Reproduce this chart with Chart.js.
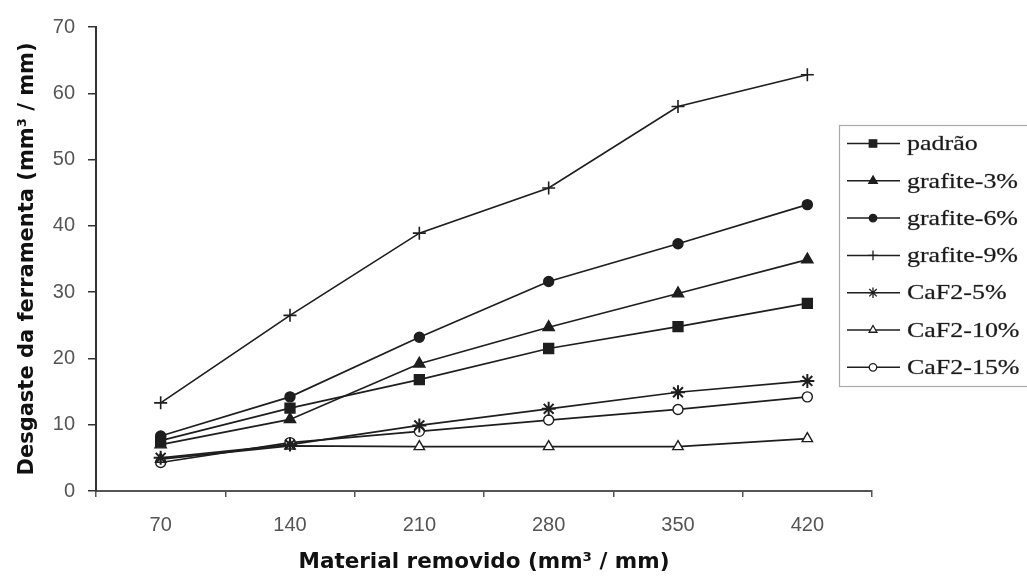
<!DOCTYPE html>
<html>
<head>
<meta charset="utf-8">
<script src="https://cdn.jsdelivr.net/npm/chart.js@4/dist/chart.umd.min.js"></script>
<style>
  html, body { margin: 0; padding: 0; background: #fff; }
  canvas { display: block; }
</style>
</head>
<body>
<canvas id="chart" width="1027" height="577"></canvas>
<script>
// material removido (mm3/mm)
const categories = ['70', '140', '210', '280', '350', '420'];
const seriesNames = ['padrão', 'grafite-3%', 'grafite-6%', 'grafite-9%', 'CaF2-5%', 'CaF2-10%', 'CaF2-15%'];

// desgaste da ferramenta (mm3/mm)
const padrao   = [7.6, 12.5, 16.8, 21.5, 24.8, 28.3];
const grafite3 = [7.0, 10.8, 19.2, 24.7, 29.8, 34.9];
const grafite6 = [8.3, 14.2, 23.2, 31.6, 37.3, 43.2];
const grafite9 = [13.3, 26.5, 38.9, 45.7, 58.0, 62.8];
const caf5     = [5.0, 7.0, 9.9, 12.4, 14.9, 16.6];
const caf10    = [4.8, 6.8, 6.7, 6.7, 6.7, 7.9];
const caf15    = [4.3, 7.3, 9.0, 10.7, 12.3, 14.2];

const yTicks = [0, 10, 20, 30, 40, 50, 60, 70];

const ink = '#1e1e1e';
const styles = [
  { pointStyle: 'rect', pointRadius: 7, fill: ink, bw: 1.4 },
  { pointStyle: 'triangle', pointRadius: 6.5, fill: ink, bw: 1.4 },
  { pointStyle: 'circle', pointRadius: 5, fill: ink, bw: 1.4 },
  { pointStyle: 'cross', pointRadius: 6.5, fill: ink, bw: 1.6 },
  { pointStyle: 'star', pointRadius: 7, fill: ink, bw: 2 },
  { pointStyle: 'triangle', pointRadius: 6, fill: '#fff', bw: 1.4 },
  { pointStyle: 'circle', pointRadius: 5, fill: '#fff', bw: 1.4 },
];
const values = [padrao, grafite3, grafite6, grafite9, caf5, caf10, caf15];

const datasets = values.map((v, i) => ({
  label: seriesNames[i],
  data: v,
  borderColor: ink,
  borderWidth: 1.7,
  pointStyle: styles[i].pointStyle,
  pointRadius: styles[i].pointRadius,
  pointBackgroundColor: styles[i].fill,
  pointBorderColor: ink,
  pointBorderWidth: styles[i].bw,
  tension: 0,
  fill: false,
}));

// legend drawn in the old spreadsheet style: line + marker + serif label, in a box
const boxLegend = {
  id: 'boxLegend',
  afterDraw(chart) {
    const ctx = chart.ctx;
    ctx.save();
    ctx.strokeStyle = '#aaa';
    ctx.lineWidth = 1.2;
    ctx.strokeRect(839.5, 125.5, 200, 261);
    chart.data.datasets.forEach((ds, i) => {
      const y = 143.5 + i * 37.3;
      ctx.strokeStyle = ink;
      ctx.lineWidth = 1.5;
      ctx.beginPath();
      ctx.moveTo(847, y);
      ctx.lineTo(900, y);
      ctx.stroke();
      ctx.fillStyle = ds.pointBackgroundColor;
      ctx.strokeStyle = ink;
      ctx.lineWidth = 1.3;
      Chart.helpers.drawPoint(ctx, {
        pointStyle: ds.pointStyle,
        radius: ds.pointRadius * 0.75,
        rotation: 0,
        borderWidth: 1.3,
      }, 873, y);
      ctx.save();
      ctx.translate(907, y);
      ctx.scale(1.18, 1);
      ctx.fillStyle = '#1a1a1a';
      ctx.strokeStyle = 'rgba(30,30,30,0.5)';
      ctx.lineWidth = 0.5;
      ctx.font = '22px "Liberation Serif", "Times New Roman", serif';
      ctx.textBaseline = 'middle';
      ctx.fillText(ds.label, 0, 1);
      ctx.strokeText(ds.label, 0, 1);
      ctx.restore();
    });
    ctx.restore();
  }
};

new Chart(document.getElementById('chart'), {
  type: 'line',
  data: { labels: categories, datasets: datasets },
  options: {
    responsive: false,
    animation: false,
    layout: { padding: { top: 27, right: 155, left: 0, bottom: 0 } },
    plugins: { legend: { display: false }, tooltip: { enabled: false } },
    scales: {
      x: {
        type: 'category',
        offset: true,
        grid: { display: true, drawOnChartArea: false, drawTicks: true, tickLength: 6, color: '#555', lineWidth: 1.5, offset: true },
        border: { display: true, color: '#555', width: 2 },
        ticks: { color: '#555', padding: 16, font: { family: '"Liberation Sans", Arial, sans-serif', size: 20 } },
        title: {
          display: true,
          text: 'Material removido (mm³ / mm)',
          color: '#111',
          font: { family: '"DejaVu Sans", Verdana, sans-serif', size: 21.5, weight: 'bold' },
          padding: { top: 0, bottom: 2 },
        },
        afterFit(scale) { scale.height = 86; },
      },
      y: {
        min: 0,
        max: 70,
        afterBuildTicks(scale) { scale.ticks = yTicks.map(v => ({ value: v })); },
        grid: { display: true, drawOnChartArea: false, drawTicks: true, tickLength: 8, color: '#333', lineWidth: 1.5 },
        border: { display: true, color: '#333', width: 2 },
        ticks: { color: '#555', padding: 13, font: { family: '"Liberation Sans", Arial, sans-serif', size: 20 } },
        title: {
          display: true,
          text: 'Desgaste da ferramenta (mm³ / mm)',
          color: '#111',
          font: { family: '"DejaVu Sans", Verdana, sans-serif', size: 21, weight: 'bold' },
          padding: { top: 15, bottom: 0 },
        },
        afterFit(scale) { scale.width = 96; },
      },
    },
  },
  plugins: [boxLegend],
});
</script>
</body>
</html>
